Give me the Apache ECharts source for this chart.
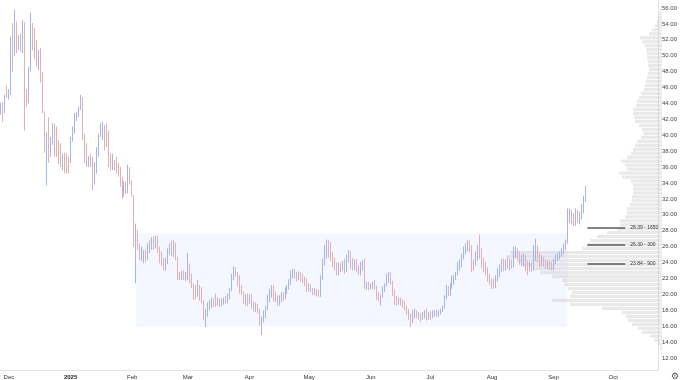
<!DOCTYPE html>
<html>
<head>
<meta charset="utf-8">
<script src="https://cdn.jsdelivr.net/npm/echarts@6/dist/echarts.min.js"></script>
<style>html,body{margin:0;padding:0;background:#fff}#c{width:680px;height:380px}</style>
</head>
<body>
<div id="c"></div>
<script>
// ---- Data : [open, close, low, high] per day ----
const nov24 = [[42.9,43.8,42.6,44.1],[43.8,42.9,41.7,44.2],[43.0,44.8,42.8,45.1],[45.9,44.9,44.7,46.3]];
const dec24 = [[44.9,45.4,44.5,45.8],[45.4,52.0,45.1,52.4],[53.6,50.3,48.0,54.1],[50.3,54.2,50.0,55.8],[54.0,51.2,50.3,54.3],[51.2,52.0,50.7,52.6],[52.0,51.0,50.5,52.8],[51.0,53.8,50.3,54.5],[53.5,45.5,40.6,54.2],[45.5,44.2,43.6,45.8],[44.2,48.2,44.0,48.6],[48.2,54.5,48.0,55.4],[54.0,51.2,50.7,54.1],[51.2,50.0,49.6,53.5],[50.2,49.0,48.6,52.0],[48.5,50.3,48.2,50.7],[50.5,47.8,46.6,51.0],[48.0,43.5,42.8,48.0],[42.8,38.5,37.8,43.0],[38.5,40.0,33.7,40.4],[41.8,37.2,36.5,42.3],[37.5,39.5,37.3,39.8],[39.3,41.0,38.8,41.5],[41.2,38.0,37.3,41.5],[40.5,38.2,37.3,41.1],[39.0,37.0,36.4,39.4],[38.6,36.5,36.0,39.0],[36.2,37.3,35.6,37.7],[37.5,36.0,35.2,37.8],[36.5,35.6,35.2,37.7],[37.0,35.8,35.2,37.3]];
const jan25 = [[36.5,39.2,36.5,39.8],[39.4,40.8,39.2,41.1],[40.6,42.3,40.2,42.8],[42.0,42.6,41.8,42.9],[42.5,43.3,42.3,43.6],[43.4,44.8,43.2,45.1],[44.6,40.0,39.4,44.8],[40.0,37.0,36.5,40.2],[38.5,36.8,36.0,39.0],[36.5,37.0,36.0,37.4],[37.4,36.3,36.0,37.7],[36.8,34.0,33.1,37.3],[34.0,36.2,33.8,36.6],[35.8,38.0,35.2,38.5],[38.0,39.8,37.3,40.2],[40.0,41.2,39.8,41.5],[40.2,41.0,39.4,41.7],[41.0,39.0,38.1,41.3],[40.8,39.2,38.5,41.5],[39.5,36.5,36.0,40.6],[37.0,36.2,35.6,37.7],[36.0,36.9,35.6,37.7],[36.8,36.0,35.6,36.9],[36.9,35.8,35.2,37.3],[36.0,35.2,34.8,36.5],[35.5,34.0,33.5,36.0],[34.6,32.5,32.0,34.8],[32.5,33.8,32.3,34.2],[33.6,33.0,32.6,34.2],[33.0,35.5,32.7,36.3],[35.5,34.2,33.8,36.0]];
const feb25 = [[34.2,32.6,32.3,34.4],[32.3,27.0,26.0,32.5],[26.5,28.0,21.4,28.9],[28.0,26.0,25.6,28.1],[26.2,24.6,24.3,26.4],[24.6,25.6,24.2,26.0],[24.5,25.2,23.9,25.6],[25.2,24.4,24.0,25.6],[24.4,26.0,24.3,26.4],[25.6,26.4,25.2,26.8],[25.8,26.8,25.6,27.2],[26.8,26.0,25.6,27.3],[26.0,27.0,25.8,27.4],[27.0,25.6,25.2,27.3],[25.6,24.4,23.9,26.0],[24.6,24.0,23.6,25.4],[24.2,23.4,23.0,24.6],[23.4,24.2,23.0,24.6],[24.0,25.4,23.8,25.8],[25.2,26.0,25.0,26.4],[26.0,25.2,24.8,26.8],[25.0,26.2,24.7,26.8],[26.2,24.5,24.3,26.5],[24.5,22.2,21.8,24.7],[22.5,22.0,21.8,22.8],[22.0,22.6,21.8,23.0],[22.6,22.0,21.8,23.0],[22.0,22.4,21.7,22.8]];
const mar25 = [[22.0,25.0,21.8,25.2],[23.8,22.0,21.4,23.9],[22.2,21.0,20.8,22.6],[21.2,19.6,19.3,21.4],[20.2,19.8,19.4,21.2],[20.0,21.0,19.7,21.8],[21.0,19.6,19.2,21.2],[20.2,19.2,18.9,20.9],[19.2,17.2,16.8,19.3],[17.0,17.8,15.9,18.2],[17.6,18.8,17.2,19.0],[18.4,18.9,18.0,19.3],[18.6,19.2,18.3,19.6],[19.2,18.6,18.4,19.5],[19.6,18.8,18.4,20.1],[18.8,19.2,18.6,19.6],[19.2,18.6,18.4,19.5],[18.6,19.3,18.5,19.5],[19.0,19.4,18.7,19.6],[19.4,19.0,18.8,19.8],[19.0,19.6,18.9,20.1],[19.6,20.6,19.4,20.8],[20.6,22.2,20.4,22.6],[22.2,23.0,21.8,23.5],[23.0,22.4,22.2,23.4],[22.6,21.4,21.0,22.8],[21.6,20.6,20.1,22.4],[20.8,20.2,19.9,21.2],[20.3,19.2,18.8,20.4],[19.0,19.6,18.6,20.0],[19.6,19.0,18.5,20.1]];
const apr25 = [[19.0,19.8,18.8,20.0],[19.8,18.4,18.2,20.0],[18.8,18.0,17.8,19.1],[18.0,18.6,17.8,19.0],[18.6,17.8,17.6,18.8],[17.8,16.4,16.1,18.2],[16.4,16.8,14.9,17.2],[16.6,17.6,16.5,18.0],[17.4,18.4,17.0,18.6],[18.2,19.6,18.0,20.0],[19.4,20.4,19.0,20.7],[20.0,20.8,19.6,21.2],[20.8,19.6,19.1,21.2],[20.0,19.4,19.0,20.4],[19.6,19.0,18.6,19.9],[19.0,19.6,18.6,19.9],[19.4,20.0,19.0,20.3],[20.0,19.5,19.2,20.3],[19.5,20.6,19.4,20.9],[20.5,21.0,20.0,21.2],[20.8,21.6,20.6,21.9],[21.6,22.6,21.2,23.0],[22.4,22.8,22.0,23.2],[22.9,22.4,22.0,23.2],[22.6,22.0,21.6,22.8],[22.0,22.6,21.8,22.9],[22.6,21.9,21.6,22.8],[22.2,21.6,21.4,22.6],[21.8,21.4,21.0,22.2],[21.4,20.6,20.3,22.0]];
const may25 = [[20.6,21.0,20.4,21.4],[21.0,20.5,20.3,21.3],[20.6,20.2,19.9,20.8],[20.2,20.5,19.9,20.8],[20.5,20.1,19.8,20.7],[20.2,20.0,19.7,20.6],[20.0,22.0,19.7,22.4],[22.0,23.8,21.8,24.5],[23.8,25.4,23.6,26.2],[25.2,26.0,24.5,26.9],[26.0,25.0,24.6,26.8],[25.2,24.6,24.2,26.6],[24.8,23.8,23.4,25.3],[24.0,23.2,23.0,24.6],[23.4,22.8,22.4,24.0],[22.8,23.6,22.4,24.0],[23.6,23.2,22.8,24.0],[23.2,24.0,23.0,24.2],[24.0,23.0,22.6,24.5],[23.0,24.6,22.8,25.0],[24.4,25.0,24.0,25.6],[25.0,23.8,23.2,25.4],[24.0,23.4,23.0,24.6],[23.4,24.0,23.0,24.4],[24.0,23.2,22.8,24.4],[23.4,22.8,22.4,23.7],[22.8,23.6,22.4,24.1],[23.5,23.9,23.0,24.3],[23.9,21.2,20.7,24.5],[21.2,21.4,20.6,21.6],[21.4,20.9,20.5,21.6]];
const jun25 = [[20.9,21.2,20.6,21.4],[21.0,21.4,20.7,21.6],[21.4,21.0,20.6,21.8],[21.0,19.8,19.3,21.1],[20.0,19.4,19.1,20.3],[19.2,19.8,18.6,20.0],[19.8,20.6,19.6,21.0],[20.6,21.2,20.3,21.4],[21.2,22.2,21.0,22.6],[22.0,22.4,21.4,22.8],[22.4,21.6,21.2,22.8],[21.6,20.2,19.8,21.7],[20.2,19.2,18.7,20.6],[19.4,19.0,18.6,19.8],[19.0,19.4,18.7,19.6],[19.4,18.9,18.6,19.6],[19.0,18.7,18.3,19.4],[18.8,18.3,18.0,19.1],[18.4,17.8,17.4,18.6],[17.8,17.2,16.8,18.2],[17.2,16.6,15.9,17.6],[16.6,17.6,16.4,18.0],[17.4,17.8,17.0,18.2],[17.8,17.2,17.0,18.0],[17.4,17.0,16.8,17.8],[17.2,16.9,16.6,17.6],[16.9,17.5,16.8,17.8],[17.2,17.8,17.0,18.0],[17.8,17.0,16.7,18.2],[17.0,17.6,16.8,17.8]];
const jul25 = [[17.6,17.2,16.8,17.9],[17.2,17.7,17.0,18.0],[17.5,17.9,17.2,18.0],[17.9,17.4,17.2,18.1],[17.4,17.8,17.2,18.0],[17.8,18.0,17.5,18.2],[17.9,18.4,17.8,18.6],[18.4,19.6,18.2,19.9],[19.6,20.6,19.4,21.2],[20.6,20.0,19.8,21.0],[20.0,21.0,19.8,21.4],[21.0,21.8,20.7,22.4],[21.6,22.0,21.2,22.4],[22.0,22.6,21.8,22.8],[22.6,23.6,22.4,24.1],[23.4,24.0,23.0,24.4],[24.0,24.8,23.4,25.1],[24.6,25.6,24.4,26.0],[25.6,26.0,25.0,26.4],[26.0,26.4,25.4,26.8],[26.4,25.6,25.3,26.8],[25.8,23.4,22.8,26.2],[24.0,23.4,23.0,24.4],[23.8,24.9,23.6,25.4],[24.6,25.6,24.2,26.2],[25.8,25.2,24.5,27.5],[25.4,24.0,23.3,25.8],[24.0,23.2,22.8,24.6],[23.4,22.8,22.4,24.1],[22.9,22.0,21.6,23.4],[22.2,21.6,21.2,22.6]];
const aug25 = [[21.8,21.2,20.7,22.0],[21.4,21.0,20.7,22.0],[21.0,21.8,20.8,22.4],[21.8,22.6,21.6,23.3],[22.6,23.4,22.2,23.8],[23.2,23.8,22.8,24.5],[23.8,23.3,22.9,24.5],[23.3,24.0,23.0,24.4],[24.0,23.4,23.2,24.8],[23.4,24.0,23.0,24.5],[24.0,23.6,23.2,24.4],[23.6,25.2,23.4,26.0],[25.0,25.6,24.6,26.0],[25.6,24.6,24.3,25.8],[24.8,24.2,23.7,25.4],[24.2,24.6,23.6,25.0],[24.4,24.8,23.5,25.2],[24.8,23.4,22.9,25.0],[23.6,23.2,22.4,24.2],[23.2,23.8,22.9,24.1],[23.8,23.2,22.8,24.0],[23.2,25.2,23.0,26.2],[25.0,26.0,24.2,27.0],[26.0,24.6,24.0,26.2],[24.8,23.8,23.4,25.2],[23.8,24.4,23.5,24.9],[24.4,23.8,23.5,24.7],[24.0,23.4,23.2,24.4],[23.4,23.9,23.2,24.2],[23.9,23.4,23.1,24.2],[23.6,23.2,23.0,24.1]];
const sep25 = [[23.2,24.2,23.0,24.5],[24.0,24.6,23.8,25.0],[24.4,24.8,24.2,25.2],[24.8,25.1,24.4,25.4],[25.0,25.6,24.7,25.8],[25.6,26.0,25.0,26.4],[26.0,26.6,25.6,26.9],[26.6,30.2,26.4,30.8],[30.0,30.4,29.0,30.8],[30.4,29.2,28.8,30.6],[29.4,28.9,28.6,30.2],[28.9,30.2,28.6,30.8],[30.2,29.6,29.0,30.6],[29.6,30.0,28.8,30.4],[30.0,31.0,29.4,31.4],[30.8,32.0,30.2,32.4],[32.0,33.0,31.6,33.6]];
const monthBlocks = [['2024-11-27',nov24],['2024-12-01',dec24],['2025-01-01',jan25],['2025-02-01',feb25],['2025-03-01',mar25],['2025-04-01',apr25],['2025-05-01',may25],['2025-06-01',jun25],['2025-07-01',jul25],['2025-08-01',aug25],['2025-09-01',sep25]];

// Volume profile: [price bin centre, relative volume]
const profileBins = [[12.75,1],[13.25,2],[13.75,4],[14.25,8],[14.75,12],[15.25,20],[15.75,24],[16.25,30],[16.75,34],[17.25,36],[17.75,40],[18.25,60],[18.75,92],[19.25,110],[19.75,92],[20.25,90],[20.75,94],[21.25,98],[21.75,100],[22.25,110],[22.75,122],[23.25,128],[23.75,140],[24.25,145],[24.75,155],[25.25,152],[25.75,80],[26.25,75],[26.75,72],[27.25,65],[27.75,55],[28.25,45],[28.75,42],[29.25,42],[29.75,37],[30.25,35],[30.75,35],[31.25,32],[31.75,30],[32.25,30],[32.75,29],[33.25,29],[33.75,29],[34.25,31],[34.75,40],[35.25,43],[35.75,35],[36.25,37],[36.75,41],[37.25,35],[37.75,31],[38.25,29],[38.75,27],[39.25,25],[39.75,21],[40.25,19],[40.75,20],[41.25,23],[41.75,27],[42.25,28],[42.75,29],[43.25,29],[43.75,26],[44.25,25],[44.75,23],[45.25,21],[45.75,18],[46.25,17],[46.75,16],[47.25,15],[47.75,14],[48.25,13],[48.75,14],[49.25,14],[49.75,15],[50.25,15],[50.75,16],[51.25,17],[51.75,20],[52.25,22],[52.75,13],[53.25,10],[53.75,7],[54.25,5],[54.75,4],[55.25,3],[55.75,2],[56.25,1]];

const levels = [[28.39,'28.39 - 1650'],[26.30,'26.30 - 300'],[23.84,'23.84 - 900']];
const rangeBox = {from:'2025-02-03', to:'2025-09-08', top:27.65, bottom:15.95};
const monthLabels = {'2024-12-01':'Dec','2025-01-01':'2025','2025-02-01':'Feb','2025-03-01':'Mar','2025-04-01':'Apr','2025-05-01':'May','2025-06-01':'Jun','2025-07-01':'Jul','2025-08-01':'Aug','2025-09-01':'Sep','2025-10-01':'Oct'};
const yTicks = [12,14,16,18,20,22,24,26,28,30,32,34,36,38,40,42,44,46,48,50,52,54,56];
const yMin = 10.5, yMax = 57;

// ---- Build tables ----
const DAY = 86400000;
const fmt = t => new Date(t).toISOString().slice(0,10);
const parse = s => Date.parse(s + 'T00:00:00Z');
const cats = [];
for (let t = parse('2024-11-27'); t <= parse('2025-10-23'); t += DAY) cats.push(fmt(t));
const byDate = {};
monthBlocks.forEach(([start, rows]) => {
  rows.forEach((r, i) => { byDate[fmt(parse(start) + i*DAY)] = r; });
});
const candle = cats.map(d => byDate[d] ? byDate[d] : '-');

const binCats = [], binVals = [];
const profMap = {};
profileBins.forEach(([p, v]) => profMap[p.toFixed(2)] = v);
for (let lo = yMin; lo < yMax - 1e-9; lo += 0.5) {
  const c = (lo + 0.25).toFixed(2);
  binCats.push(c);
  binVals.push(profMap[c] || 0);
}

const FONT = 'Liberation Sans, Arial, sans-serif';
const UP = '#a3b5ee', DOWN = '#e6b0b0';
const chart = echarts.init(document.getElementById('c'), null, {renderer:'canvas'});
const gridPos = {left:-1, right:18, top:0, bottom:10};
chart.setOption({
  animation:false,
  backgroundColor:'#ffffff',
  grid:[Object.assign({}, gridPos), Object.assign({}, gridPos)],
  xAxis:[{
    type:'category', data:cats, boundaryGap:true, gridIndex:0,
    axisLine:{show:true, lineStyle:{color:'#e0e3eb', width:1}},
    axisTick:{show:false}, splitLine:{show:false},
    axisLabel:{
      interval:(i, v) => !!monthLabels[v],
      formatter:v => monthLabels[v] === '2025' ? '{b|2025}' : (monthLabels[v] || ''),
      fontSize:6, color:'#333', fontFamily:FONT, margin:4,
      rich:{b:{fontSize:6, fontWeight:'bold', color:'#222', fontFamily:FONT}}
    }
  },{
    type:'value', gridIndex:1, inverse:true, min:0, max:663, show:false
  }],
  yAxis:[{
    type:'value', position:'right', gridIndex:0, min:yMin, max:yMax, scale:true,
    axisLine:{show:true, lineStyle:{color:'#e0e3eb', width:1}},
    axisTick:{show:false}, splitLine:{show:false},
    axisLabel:{customValues:yTicks, formatter:v => Number(v).toFixed(2), fontSize:6, color:'#444', fontFamily:FONT, margin:4}
  },{
    type:'category', gridIndex:1, data:binCats, boundaryGap:true, show:false
  }],
  series:[{
    type:'line', xAxisIndex:0, yAxisIndex:0, data:[], z:1, silent:true,
    markArea:{silent:true, itemStyle:{color:'rgba(41,98,255,0.05)'},
      data:[[{coord:[rangeBox.from, rangeBox.top]},{coord:[rangeBox.to, rangeBox.bottom]}]]}
  },{
    type:'bar', xAxisIndex:1, yAxisIndex:1, data:binVals, z:2, silent:true,
    barCategoryGap:'18%', itemStyle:{color:'rgba(190,190,190,0.34)'}
  },{
    type:'candlestick', xAxisIndex:0, yAxisIndex:0, data:candle, z:3,
    barWidth:1.3,
    itemStyle:{color:UP, color0:DOWN, borderColor:UP, borderColor0:DOWN, borderColorDoji:UP, borderWidth:1}
  },{
    type:'line', xAxisIndex:0, yAxisIndex:0, data:[], z:4, silent:true,
    markLine:{silent:true, symbol:'none',
      lineStyle:{color:'#5a5a5a', width:1.5, type:'solid'},
      label:{show:true, position:'end', fontSize:5, color:'#333', fontFamily:FONT, distance:5},
      data: levels.map(([v, txt]) => [
        {coord:['2025-09-18', v]},
        {coord:['2025-10-07', v], label:{formatter:txt}}
      ])}
  }],
  graphic:[{type:'text', left:671, top:372, style:{text:'\u2699', fontSize:9, fill:'#555', fontFamily:'DejaVu Sans'}}]
});
</script>
</body>
</html>
